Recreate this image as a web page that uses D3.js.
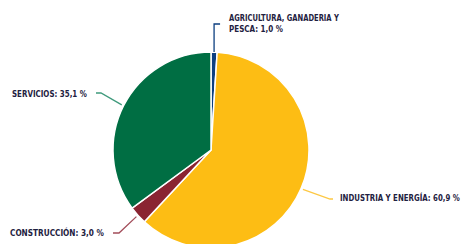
<!DOCTYPE html>
<html><head><meta charset="utf-8">
<script src="https://cdn.jsdelivr.net/npm/d3@7"></script>
<style>
body{margin:0;background:#fff;}
text{font-family:"DejaVu Sans Condensed","Liberation Sans Narrow",sans-serif;}
</style></head>
<body><svg id="c" width="465" height="244"></svg>
<script>
const categories = ["AGRICULTURA, GANADERIA Y PESCA", "INDUSTRIA Y ENERGÍA", "CONSTRUCCIÓN", "SERVICIOS"];
const values = [1.0, 60.9, 3.0, 35.1];
const labels = [["AGRICULTURA, GANADERIA Y", "PESCA: 1,0 %"], ["INDUSTRIA Y ENERGÍA: 60,9 %"], ["CONSTRUCCIÓN: 3,0 %"], ["SERVICIOS: 35,1 %"]];
const colors = ["#0d3f80", "#fdbd14", "#8a2432", "#006e43"];
const lineColors = ["#0d3f80", "#fdc843", "#a34d5a", "#3f9a7c"];

const svg = d3.select("#c");
const cx = 211, cy = 150, R = 98;
const g = svg.append("g").attr("transform", `translate(${cx},${cy})`);
const pie = d3.pie().sort(null).value(d => d);
const arcs = pie(values);
const arc = d3.arc().innerRadius(0).outerRadius(R);
g.selectAll("path").data(arcs).enter().append("path")
  .attr("d", arc).attr("fill", (d,i) => colors[i])
  .attr("stroke", "#fff").attr("stroke-width", 1.5).attr("stroke-linejoin","round");

const layout = [
  {pts: (p) => [[p[0], p[1]], [p[0], -126], [p[0]+6, -126]], tx: 18, ty: [-129, -118], w: [110, 54]},
  {pts: (p) => [p, [119, 49], [122, 49]], tx: 129, ty: [51], w: [120]},
  {pts: (p) => [p, [-92, 83], [-98, 83]], tx: -201, ty: [86], w: [94]},
  {pts: (p) => [p, [-110, -57], [-115, -57]], tx: -199, ty: [-53], w: [75]}
];
arcs.forEach((a, i) => {
  const m = (a.startAngle + a.endAngle) / 2;
  const r0 = i === 0 ? R : R + 2;
  const p = [Math.sin(m) * r0, -Math.cos(m) * r0];
  const L = layout[i];
  g.append("path").attr("d", d3.line()(L.pts(p))).attr("fill", "none")
    .attr("stroke", lineColors[i]).attr("stroke-width", 1.3);
  labels[i].forEach((s, k) => {
    const t = g.append("text").attr("fill", "#1e2140").attr("font-size", 9.5)
      .attr("font-weight", "bold").text(s);
    const nat = t.node().getComputedTextLength();
    const sx = Math.min(1, L.w[k] / nat);
    t.attr("transform", `translate(${L.tx},${L.ty[k]}) scale(${sx},1)`);
  });
});
</script></body></html>
